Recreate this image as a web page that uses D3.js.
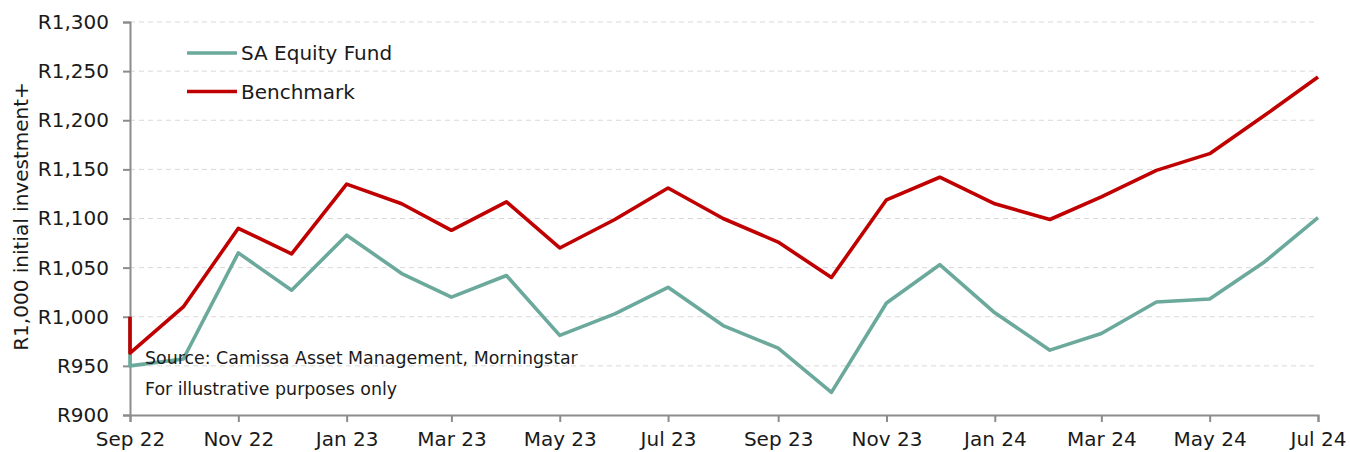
<!DOCTYPE html>
<html>
<head>
<meta charset="utf-8">
<script src="https://cdn.jsdelivr.net/npm/d3@7"></script>
<style>
  body { margin: 0; background: #fff; }
  svg text { font-family: "DejaVu Sans", Verdana, sans-serif; }
</style>
</head>
<body>
<svg width="1350" height="452"></svg>
<script>
// maand-einde waardes, R1,000 start
const months = ['2022-09','2022-10','2022-11','2022-12','2023-01','2023-02','2023-03','2023-04',
  '2023-05','2023-06','2023-07','2023-08','2023-09','2023-10','2023-11','2023-12',
  '2024-01','2024-02','2024-03','2024-04','2024-05','2024-06','2024-07'];
const startValue = 1000;
const fund = [950, 957, 1065, 1027, 1083, 1044, 1020, 1042, 981, 1003, 1030, 991, 968, 923,
  1014, 1053, 1004, 966, 983, 1015, 1018, 1056, 1101];
const benchmark = [963, 1010, 1090, 1064, 1135, 1115, 1088, 1117, 1070, 1099, 1131, 1100, 1076, 1040,
  1119, 1142, 1115, 1099, 1122, 1149, 1166, 1205, 1244];
const yTicks = [900, 950, 1000, 1050, 1100, 1150, 1200, 1250, 1300];
const seriesNames = ['SA Equity Fund', 'Benchmark'];
const colors = ['#6aa99b', '#c00000'];

const svg = d3.select('svg');
const width = +svg.attr('width');
const height = +svg.attr('height');
const margin = {top: 22, right: 32, bottom: 37, left: 130};
const innerWidth = width - margin.left - margin.right;
const innerHeight = height - margin.top - margin.bottom;

const parse = d3.timeParse('%Y-%m');
const dates = months.map(parse);

const xscale = d3.scaleTime()
  .domain(d3.extent(dates))
  .range([0, innerWidth]);

const yscale = d3.scaleLinear()
  .domain([900, 1300])
  .range([innerHeight, 0]);

const g = svg.append('g')
  .attr('transform', `translate(${margin.left}, ${margin.top})`);

// gridlijnen
g.selectAll('.grid').data(yTicks.slice(1))
  .enter().append('line')
    .attr('x1', 0).attr('x2', innerWidth)
    .attr('y1', d => yscale(d)).attr('y2', d => yscale(d))
    .attr('stroke', '#d9d9d9')
    .attr('stroke-dasharray', '5,4');

const fmt = d3.format(',');
const yAxis = g.append('g')
  .call(d3.axisLeft(yscale).tickValues(yTicks).tickFormat(d => 'R' + fmt(d)).tickSize(7).tickPadding(14));

const xAxis = g.append('g')
  .attr('transform', `translate(0, ${innerHeight})`)
  .call(d3.axisBottom(xscale).ticks(d3.timeMonth.every(2)).tickFormat(d3.timeFormat('%b %y')).tickSize(7).tickPadding(10));

[yAxis, xAxis].forEach(ax => {
  ax.attr('font-family', null).attr('font-size', null);
  ax.select('.domain').attr('stroke', '#8c8c8c').attr('stroke-width', 2);
  ax.selectAll('.tick line').attr('stroke', '#8c8c8c').attr('stroke-width', 2);
  ax.selectAll('.tick text').attr('fill', '#1a1a1a').style('font-size', '20px');
});

// lijnen, met startpunt R1,000
const line = d3.line()
  .x(d => xscale(d.date))
  .y(d => yscale(d.value));

[fund, benchmark].forEach((vals, i) => {
  const pts = [{date: dates[0], value: startValue}]
    .concat(vals.map((v, j) => ({date: dates[j], value: v})));
  g.append('path')
    .datum(pts)
    .attr('fill', 'none')
    .attr('stroke', colors[i])
    .attr('stroke-width', 3.6)
    .attr('stroke-linejoin', 'round')
    .attr('d', line);
});

// legenda
const legend = svg.append('g').attr('transform', 'translate(187, 53)');
seriesNames.forEach((name, i) => {
  const row = legend.append('g').attr('transform', `translate(0, ${i * 38.5})`);
  row.append('line').attr('x1', 0).attr('x2', 50)
    .attr('stroke', colors[i]).attr('stroke-width', 3.6);
  row.append('text').attr('x', 54).attr('dy', '0.35em')
    .style('font-size', '20px').attr('fill', '#1a1a1a').text(name);
});

// bron tekst
svg.append('text').attr('x', 145).attr('y', 364)
  .style('font-size', '17.4px').attr('fill', '#1a1a1a')
  .text('Source: Camissa Asset Management, Morningstar');
svg.append('text').attr('x', 145).attr('y', 395)
  .style('font-size', '17.4px').attr('fill', '#1a1a1a')
  .text('For illustrative purposes only');

// y-as titel
svg.append('text')
  .attr('transform', `translate(28, ${margin.top + innerHeight / 2 - 2}) rotate(-90)`)
  .attr('text-anchor', 'middle')
  .style('font-size', '20px').attr('fill', '#1a1a1a')
  .text('R1,000 initial investment+');
</script>
</body>
</html>
